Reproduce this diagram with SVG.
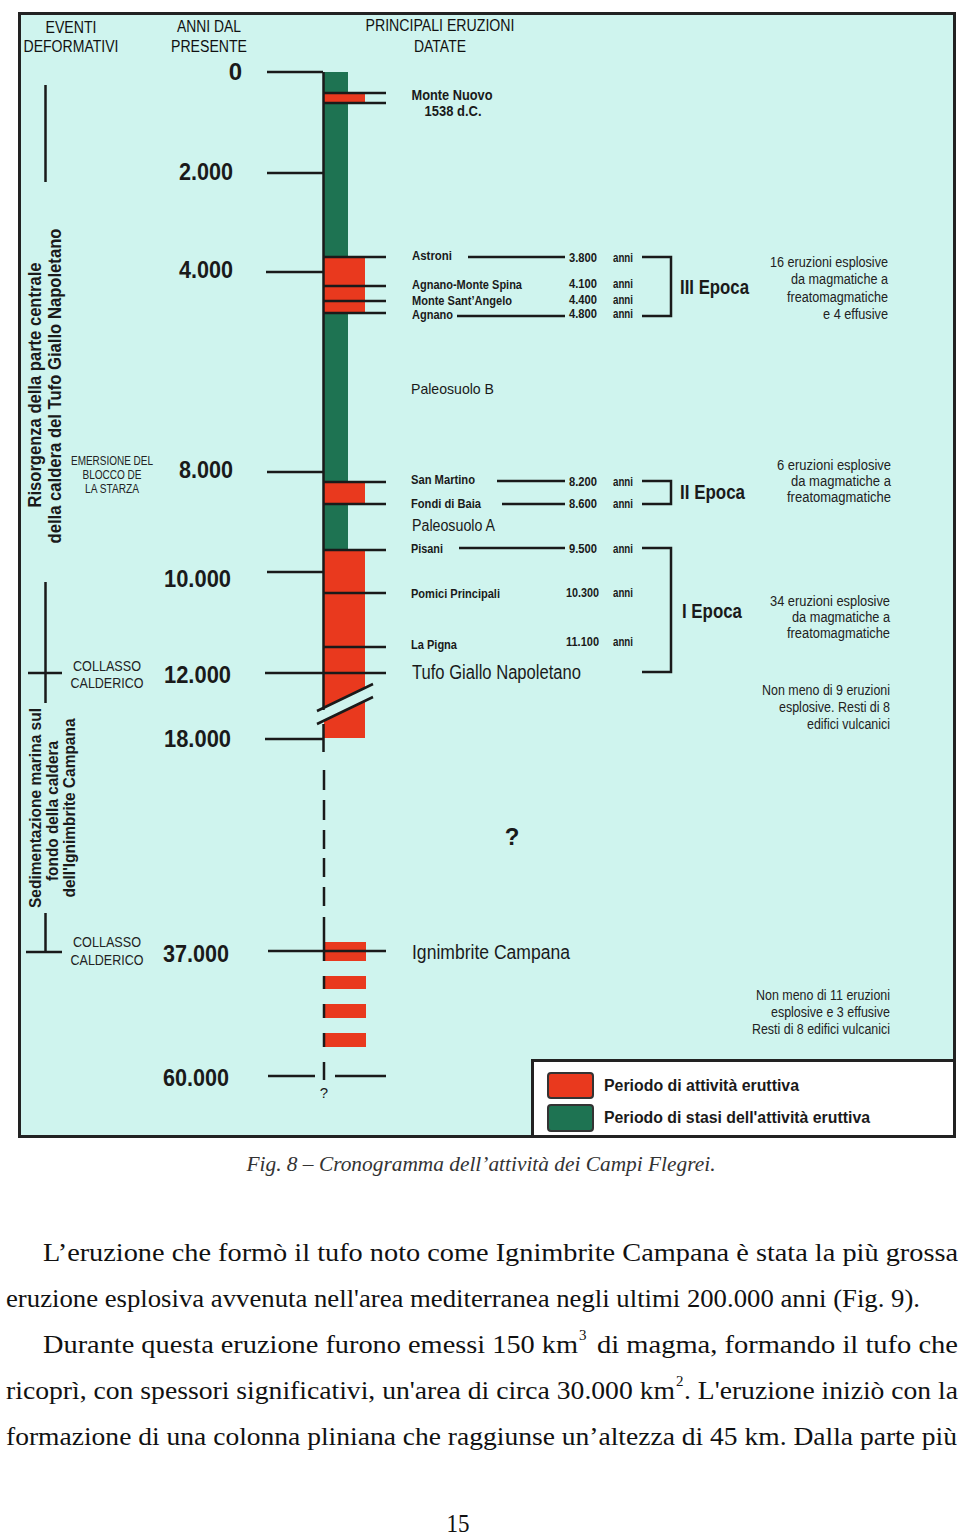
<svg xmlns="http://www.w3.org/2000/svg" width="960" height="1535" viewBox="0 0 960 1535">
<style>
.sans{font-family:"Liberation Sans",Arial,sans-serif;fill:#1a1a1a}
.yr{font-family:"Liberation Sans",Arial,sans-serif;font-weight:bold;font-size:24px;fill:#1a1a1a;text-anchor:end}
.hd{font-family:"Liberation Sans",Arial,sans-serif;font-size:16px;fill:#111;text-anchor:middle}
.lb{font-family:"Liberation Sans",Arial,sans-serif;font-weight:bold;font-size:12.5px;fill:#1a1a1a}
.mn{font-family:"Liberation Sans",Arial,sans-serif;font-weight:bold;font-size:14px;fill:#1a1a1a;text-anchor:middle}
.ds{font-family:"Liberation Sans",Arial,sans-serif;font-size:14px;fill:#222;text-anchor:end}
.ep{font-family:"Liberation Sans",Arial,sans-serif;font-weight:bold;font-size:20px;fill:#1a1a1a}
.big{font-family:"Liberation Sans",Arial,sans-serif;font-size:20px;fill:#1a1a1a}
.ev{font-family:"Liberation Sans",Arial,sans-serif;font-size:15px;fill:#222;text-anchor:middle}
.evs{font-family:"Liberation Sans",Arial,sans-serif;font-size:12px;fill:#222;text-anchor:middle}
.rot{font-family:"Liberation Sans",Arial,sans-serif;font-weight:bold;font-size:18px;fill:#1a1a1a;text-anchor:middle}
.rot2{font-family:"Liberation Sans",Arial,sans-serif;font-weight:bold;font-size:17px;fill:#1a1a1a;text-anchor:middle}
.leg{font-family:"Liberation Sans",Arial,sans-serif;font-weight:bold;font-size:16px;fill:#1a1a1a}
.ln{stroke:#1a1a1a;stroke-width:2.5;fill:none}
.red{fill:#e9391e}
.grn{fill:#1e7352}
.ser{font-family:"Liberation Serif","Times New Roman",serif;font-size:26px;fill:#111}
.sup{font-family:"Liberation Serif","Times New Roman",serif;font-size:15px;fill:#111}
</style>

<!-- frame -->
<rect id="frame" x="19.5" y="13.5" width="935" height="1123" fill="#cff4ee" stroke="#222" stroke-width="3"/>

<!-- headers -->
<g id="headers">
<text class="hd" x="71" y="33" textLength="51" lengthAdjust="spacingAndGlyphs">EVENTI</text>
<text class="hd" x="71" y="52" textLength="95" lengthAdjust="spacingAndGlyphs">DEFORMATIVI</text>
<text class="hd" x="209" y="32" textLength="64" lengthAdjust="spacingAndGlyphs">ANNI DAL</text>
<text class="hd" x="209" y="52" textLength="76" lengthAdjust="spacingAndGlyphs">PRESENTE</text>
<text class="hd" x="440" y="31" textLength="149" lengthAdjust="spacingAndGlyphs">PRINCIPALI ERUZIONI</text>
<text class="hd" x="440" y="52" textLength="52" lengthAdjust="spacingAndGlyphs">DATATE</text>
</g>

<!-- years -->
<g id="years">
<text class="yr" x="242" y="80">0</text>
<text class="yr" x="233" y="180" textLength="54" lengthAdjust="spacingAndGlyphs">2.000</text>
<text class="yr" x="233" y="278" textLength="54" lengthAdjust="spacingAndGlyphs">4.000</text>
<text class="yr" x="233" y="478" textLength="54" lengthAdjust="spacingAndGlyphs">8.000</text>
<text class="yr" x="231" y="587" textLength="67" lengthAdjust="spacingAndGlyphs">10.000</text>
<text class="yr" x="231" y="683" textLength="67" lengthAdjust="spacingAndGlyphs">12.000</text>
<text class="yr" x="231" y="747" textLength="67" lengthAdjust="spacingAndGlyphs">18.000</text>
<text class="yr" x="229" y="962" textLength="66" lengthAdjust="spacingAndGlyphs">37.000</text>
<text class="yr" x="229" y="1086" textLength="66" lengthAdjust="spacingAndGlyphs">60.000</text>
</g>

<!-- column bars -->
<g id="column">
<rect class="grn" x="324" y="72" width="24" height="23"/>
<rect class="red" x="324" y="94" width="41" height="8"/>
<rect class="grn" x="324" y="102" width="24" height="156"/>
<rect class="red" x="324" y="258" width="41" height="55"/>
<rect class="grn" x="324" y="313" width="24" height="169"/>
<rect class="red" x="324" y="482" width="41" height="22"/>
<rect class="grn" x="324" y="504" width="24" height="46"/>
<rect class="red" x="324" y="550" width="41" height="188"/>
<polygon points="316,711 374,683 374,696 316,724" fill="#cff4ee"/>
<rect class="red" x="324" y="942" width="42" height="19"/>
<rect class="red" x="324" y="976" width="42" height="13"/>
<rect class="red" x="324" y="1004" width="42" height="14"/>
<rect class="red" x="324" y="1033" width="42" height="14"/>
</g>

<!-- connectors -->
<g id="connectors" class="ln">
<path d="M323.5 72V710M323.5 724V752M324 770V790M324 800V820M324 830V849M324 858V877M324 887V906M324 917V961M324 976V989M324 1004V1018M324 1033V1047M324 1062V1080"/>
<path d="M267 72H323M267 173H323M266 272H323M267 472H323M267 572H323M265 673H386M265 739H323M268 951H386M268 1076H315M335 1076H386"/>
<path d="M323 93H386M323 103H386M323 257H386M323 286H386M323 301H386M323 313H386M323 482H386M323 504H386M323 550H386M323 593H386M323 647H386"/>
<path d="M317 711L373 684M317 724L373 697"/>
<path d="M468 257H565M457 316H565M497 481H565M502 504H565M459 548H565"/>
<path d="M642 257H671V316H642M642 481H671V504H642M642 548H671V672H642"/>
<path d="M45.5 85V182M45.5 582V703M28 673H62M45.5 913V952M26 952H62"/>
</g>

<!-- Monte Nuovo -->
<g id="monte-nuovo">
<text class="mn" x="452" y="100" textLength="81" lengthAdjust="spacingAndGlyphs">Monte Nuovo</text>
<text class="mn" x="453" y="116" textLength="57" lengthAdjust="spacingAndGlyphs">1538 d.C.</text>
</g>

<!-- III Epoca -->
<g id="epoca-3">
<text class="lb" x="412" y="260" textLength="40" lengthAdjust="spacingAndGlyphs">Astroni</text>
<text class="lb" x="412" y="289" textLength="110" lengthAdjust="spacingAndGlyphs">Agnano-Monte Spina</text>
<text class="lb" x="412" y="305" textLength="100" lengthAdjust="spacingAndGlyphs">Monte Sant’Angelo</text>
<text class="lb" x="412" y="319" textLength="41" lengthAdjust="spacingAndGlyphs">Agnano</text>
<text class="lb" x="569" y="262" textLength="28" lengthAdjust="spacingAndGlyphs">3.800</text>
<text class="lb" x="569" y="288" textLength="28" lengthAdjust="spacingAndGlyphs">4.100</text>
<text class="lb" x="569" y="304" textLength="28" lengthAdjust="spacingAndGlyphs">4.400</text>
<text class="lb" x="569" y="318" textLength="28" lengthAdjust="spacingAndGlyphs">4.800</text>
<text class="lb" x="613" y="262" textLength="20" lengthAdjust="spacingAndGlyphs">anni</text>
<text class="lb" x="613" y="288" textLength="20" lengthAdjust="spacingAndGlyphs">anni</text>
<text class="lb" x="613" y="304" textLength="20" lengthAdjust="spacingAndGlyphs">anni</text>
<text class="lb" x="613" y="318" textLength="20" lengthAdjust="spacingAndGlyphs">anni</text>
<text class="ep" x="680" y="294" textLength="69" lengthAdjust="spacingAndGlyphs">III Epoca</text>
<text class="ds" x="888" y="267" textLength="118" lengthAdjust="spacingAndGlyphs">16 eruzioni esplosive</text>
<text class="ds" x="888" y="284" textLength="97" lengthAdjust="spacingAndGlyphs">da magmatiche a</text>
<text class="ds" x="888" y="302" textLength="101" lengthAdjust="spacingAndGlyphs">freatomagmatiche</text>
<text class="ds" x="888" y="319" textLength="65" lengthAdjust="spacingAndGlyphs">e 4 effusive</text>
</g>

<g id="paleosuolo-b">
<text class="sans" x="411" y="394" font-size="15" textLength="83" lengthAdjust="spacingAndGlyphs">Paleosuolo B</text>
</g>

<!-- II Epoca -->
<g id="epoca-2">
<text class="lb" x="411" y="484" textLength="64" lengthAdjust="spacingAndGlyphs">San Martino</text>
<text class="lb" x="411" y="508" textLength="70" lengthAdjust="spacingAndGlyphs">Fondi di Baia</text>
<text class="lb" x="569" y="486" textLength="28" lengthAdjust="spacingAndGlyphs">8.200</text>
<text class="lb" x="569" y="508" textLength="28" lengthAdjust="spacingAndGlyphs">8.600</text>
<text class="lb" x="613" y="486" textLength="20" lengthAdjust="spacingAndGlyphs">anni</text>
<text class="lb" x="613" y="508" textLength="20" lengthAdjust="spacingAndGlyphs">anni</text>
<text class="ep" x="680" y="499" textLength="65" lengthAdjust="spacingAndGlyphs">II Epoca</text>
<text class="ds" x="891" y="470" textLength="114" lengthAdjust="spacingAndGlyphs">6 eruzioni esplosive</text>
<text class="ds" x="891" y="486" textLength="100" lengthAdjust="spacingAndGlyphs">da magmatiche a</text>
<text class="ds" x="891" y="502" textLength="104" lengthAdjust="spacingAndGlyphs">freatomagmatiche</text>
</g>

<g id="paleosuolo-a">
<text class="sans" x="412" y="531" font-size="16" textLength="83" lengthAdjust="spacingAndGlyphs">Paleosuolo A</text>
</g>

<!-- I Epoca -->
<g id="epoca-1">
<text class="lb" x="411" y="553" textLength="32" lengthAdjust="spacingAndGlyphs">Pisani</text>
<text class="lb" x="411" y="598" textLength="89" lengthAdjust="spacingAndGlyphs">Pomici Principali</text>
<text class="lb" x="411" y="649" textLength="46" lengthAdjust="spacingAndGlyphs">La Pigna</text>
<text class="lb" x="569" y="553" textLength="28" lengthAdjust="spacingAndGlyphs">9.500</text>
<text class="lb" x="566" y="597" textLength="33" lengthAdjust="spacingAndGlyphs">10.300</text>
<text class="lb" x="566" y="646" textLength="33" lengthAdjust="spacingAndGlyphs">11.100</text>
<text class="lb" x="613" y="553" textLength="20" lengthAdjust="spacingAndGlyphs">anni</text>
<text class="lb" x="613" y="597" textLength="20" lengthAdjust="spacingAndGlyphs">anni</text>
<text class="lb" x="613" y="646" textLength="20" lengthAdjust="spacingAndGlyphs">anni</text>
<text class="ep" x="682" y="618" textLength="60" lengthAdjust="spacingAndGlyphs">I Epoca</text>
<text class="ds" x="890" y="606" textLength="120" lengthAdjust="spacingAndGlyphs">34 eruzioni esplosive</text>
<text class="ds" x="890" y="622" textLength="98" lengthAdjust="spacingAndGlyphs">da magmatiche a</text>
<text class="ds" x="890" y="638" textLength="103" lengthAdjust="spacingAndGlyphs">freatomagmatiche</text>
</g>

<g id="tufo-giallo">
<text class="big" x="412" y="679" textLength="169" lengthAdjust="spacingAndGlyphs">Tufo Giallo Napoletano</text>
<text class="ds" x="890" y="695" textLength="128" lengthAdjust="spacingAndGlyphs">Non meno di 9 eruzioni</text>
<text class="ds" x="890" y="712" textLength="111" lengthAdjust="spacingAndGlyphs">esplosive. Resti di 8</text>
<text class="ds" x="890" y="729" textLength="83" lengthAdjust="spacingAndGlyphs">edifici vulcanici</text>
</g>

<g id="unknown">
<text class="sans" x="512" y="845" font-size="24" font-weight="bold" text-anchor="middle">?</text>
<text class="sans" x="324" y="1098" font-size="15" text-anchor="middle">?</text>
</g>

<g id="ignimbrite">
<text class="big" x="412" y="959" textLength="158" lengthAdjust="spacingAndGlyphs">Ignimbrite Campana</text>
<text class="ds" x="890" y="1000" textLength="134" lengthAdjust="spacingAndGlyphs">Non meno di 11 eruzioni</text>
<text class="ds" x="890" y="1017" textLength="119" lengthAdjust="spacingAndGlyphs">esplosive e 3 effusive</text>
<text class="ds" x="890" y="1034" textLength="138" lengthAdjust="spacingAndGlyphs">Resti di 8 edifici vulcanici</text>
</g>

<!-- left deformation events -->
<g id="risorgenza">
<text class="rot" transform="translate(41,385) rotate(-90)" textLength="245" lengthAdjust="spacingAndGlyphs">Risorgenza della parte centrale</text>
<text class="rot" transform="translate(61,386) rotate(-90)" textLength="315" lengthAdjust="spacingAndGlyphs">della caldera del Tufo Giallo Napoletano</text>
</g>
<g id="emersione">
<text class="evs" x="112" y="465" textLength="82" lengthAdjust="spacingAndGlyphs">EMERSIONE DEL</text>
<text class="evs" x="112" y="479" textLength="59" lengthAdjust="spacingAndGlyphs">BLOCCO DE</text>
<text class="evs" x="112" y="493" textLength="54" lengthAdjust="spacingAndGlyphs">LA STARZA</text>
</g>
<g id="collasso-1">
<text class="ev" x="107" y="671" textLength="68" lengthAdjust="spacingAndGlyphs">COLLASSO</text>
<text class="ev" x="107" y="688" textLength="73" lengthAdjust="spacingAndGlyphs">CALDERICO</text>
</g>
<g id="sedimentazione">
<text class="rot2" transform="translate(41,808) rotate(-90)" textLength="200" lengthAdjust="spacingAndGlyphs">Sedimentazione marina sul</text>
<text class="rot2" transform="translate(58,811) rotate(-90)" textLength="140" lengthAdjust="spacingAndGlyphs">fondo della caldera</text>
<text class="rot2" transform="translate(75,808) rotate(-90)" textLength="179" lengthAdjust="spacingAndGlyphs">dell'Ignimbrite Campana</text>
</g>
<g id="collasso-2">
<text class="ev" x="107" y="947" textLength="68" lengthAdjust="spacingAndGlyphs">COLLASSO</text>
<text class="ev" x="107" y="965" textLength="73" lengthAdjust="spacingAndGlyphs">CALDERICO</text>
</g>

<!-- legend -->
<g id="legend">
<rect x="532.5" y="1060.5" width="422" height="76" fill="#fff" stroke="#222" stroke-width="3"/>
<rect x="548" y="1073" width="45" height="25" rx="3" fill="#e9391e" stroke="#333" stroke-width="2"/>
<rect x="548" y="1105" width="45" height="26" rx="3" fill="#1e7352" stroke="#333" stroke-width="2"/>
<text class="leg" x="604" y="1091" textLength="195" lengthAdjust="spacingAndGlyphs">Periodo di attività eruttiva</text>
<text class="leg" x="604" y="1123" textLength="266" lengthAdjust="spacingAndGlyphs">Periodo di stasi dell'attività eruttiva</text>
</g>

<!-- caption and body text -->
<g id="page-text">
<text x="481" y="1171" font-family="'Liberation Serif','Times New Roman',serif" font-style="italic" font-size="21" fill="#333" text-anchor="middle" textLength="469" lengthAdjust="spacingAndGlyphs">Fig. 8 – Cronogramma dell’attività dei Campi Flegrei.</text>
<text class="ser" x="43" y="1261" textLength="915" lengthAdjust="spacingAndGlyphs">L’eruzione che formò il tufo noto come Ignimbrite Campana è stata la più grossa</text>
<text class="ser" x="6" y="1307" textLength="914" lengthAdjust="spacingAndGlyphs">eruzione esplosiva avvenuta nell'area mediterranea negli ultimi 200.000 anni (Fig. 9).</text>
<text class="ser" x="43" y="1353" textLength="535" lengthAdjust="spacingAndGlyphs">Durante questa eruzione furono emessi 150 km</text>
<text class="sup" x="579" y="1340">3</text>
<text class="ser" x="597" y="1353" textLength="361" lengthAdjust="spacingAndGlyphs">di magma, formando il tufo che</text>
<text class="ser" x="6" y="1399" textLength="669" lengthAdjust="spacingAndGlyphs">ricoprì, con spessori significativi, un'area di circa 30.000 km</text>
<text class="sup" x="676" y="1386">2</text>
<text class="ser" x="684" y="1399" textLength="274" lengthAdjust="spacingAndGlyphs">. L'eruzione iniziò con la</text>
<text class="ser" x="6" y="1445" textLength="951" lengthAdjust="spacingAndGlyphs">formazione di una colonna pliniana che raggiunse un’altezza di 45 km. Dalla parte più</text>
<text class="ser" x="458" y="1532" text-anchor="middle" textLength="23" lengthAdjust="spacingAndGlyphs">15</text>
</g>
</svg>
